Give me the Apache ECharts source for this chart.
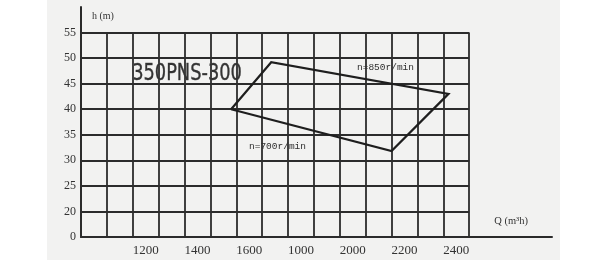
<!DOCTYPE html>
<html>
<head>
<meta charset="utf-8">
<script src="https://cdn.jsdelivr.net/npm/echarts@6/dist/echarts.min.js"></script>
<style>
  html, body { margin: 0; padding: 0; background: #ffffff; }
  #chart { position: absolute; left: 47px; top: 0; width: 513px; height: 260px; background: #f2f2f1; }
</style>
</head>
<body>
<div id="chart"></div>
<script>
// ---- data ----
const xTickValues = [1200, 1400, 1600, 1800, 2000, 2200, 2400];
const xTickLabels = ['1200', '1400', '1600', '1000', '2000', '2200', '2400'];
const yTickValues = [15, 20, 25, 30, 35, 40, 45, 50, 55];
const yTickLabels = ['0', '20', '25', '30', '35', '40', '45', '50', '55'];
const gridQ = [950, 1050, 1150, 1250, 1350, 1450, 1550, 1650, 1750, 1850, 1950, 2050, 2150, 2250, 2350, 2450];
const gridH = [15, 20, 25, 30, 35, 40, 45, 50, 55];
const envelopeQ = [1530, 1685, 2370, 2150, 1530];
const envelopeH = [40, 49.2, 43, 31.8, 40];
const modelName = '350PNS-300';
const speedHigh = 'n=850r/min';
const speedLow = 'n=700r/min';

// ---- build ----
const qMin = gridQ[0], qMax = gridQ[gridQ.length - 1];
const hMin = gridH[0], hMax = gridH[gridH.length - 1];
const gridLines = [];
gridQ.forEach(q => gridLines.push([{ coord: [q, hMin] }, { coord: [q, hMax] }]));
gridH.forEach(h => gridLines.push([{ coord: [qMin, h] }, { coord: [qMax, h] }]));

const xLabelMap = {};
xTickValues.forEach((v, i) => xLabelMap[v] = xTickLabels[i]);
const yLabelMap = {};
yTickValues.forEach((v, i) => yLabelMap[v] = yTickLabels[i]);

const serif = 'Liberation Serif';
const chart = echarts.init(document.getElementById('chart'));
chart.setOption({
  animation: false,
  title: [
    { text: speedHigh, left: 310, top: 62, padding: 0,
      textStyle: { fontFamily: 'Liberation Mono', fontSize: 9.5, fontWeight: 'normal', color: '#2e2e2e' } },
    { text: speedLow, left: 202, top: 141, padding: 0,
      textStyle: { fontFamily: 'Liberation Mono', fontSize: 9.5, fontWeight: 'normal', color: '#2e2e2e' } }
  ],
  graphic: [
    { type: 'text', left: 85, top: 62, scaleX: 0.86, z: 10,
      style: { text: modelName, font: '23px "DejaVu Sans Condensed", "DejaVu Sans", sans-serif', fill: '#333333', stroke: '#555555', lineWidth: 0.4 } }
  ],
  grid: { left: 34, right: 8, top: 7, bottom: 23 },
  xAxis: {
    type: 'value', min: 950, max: 2770, interval: 50,
    name: 'Q (m³h)', nameLocation: 'end', nameGap: -24,
    nameTextStyle: { fontFamily: serif, fontSize: 10.5, color: '#333', align: 'right', verticalAlign: 'bottom', padding: [0, 0, 10, 0] },
    axisLine: { show: true, lineStyle: { color: '#2a2a2a', width: 2 } },
    axisTick: { show: false },
    splitLine: { show: false },
    axisLabel: {
      margin: 7, fontFamily: serif, fontSize: 13, color: '#333',
      showMinLabel: true, showMaxLabel: true,
      formatter: v => xLabelMap[v] || ''
    }
  },
  yAxis: {
    type: 'value', min: 15, max: 60, interval: 5,
    name: 'h (m)', nameLocation: 'end', nameGap: -14,
    nameTextStyle: { fontFamily: serif, fontSize: 10, color: '#333', align: 'left', padding: [0, 0, 0, 11] },
    axisLine: { show: true, lineStyle: { color: '#2a2a2a', width: 2 } },
    axisTick: { show: false },
    splitLine: { show: false },
    axisLabel: {
      margin: 5, fontFamily: serif, fontSize: 12, color: '#333',
      formatter: v => (yLabelMap[v] !== undefined ? yLabelMap[v] : '')
    }
  },
  series: [
    {
      type: 'line', data: [], z: 1,
      markLine: {
        silent: true, symbol: 'none', label: { show: false },
        lineStyle: { color: '#2c2c2c', width: 1.8, type: 'solid' },
        data: gridLines
      }
    },
    {
      type: 'line', z: 5,
      data: envelopeQ.map((q, i) => [q, envelopeH[i]]),
      symbol: 'none',
      lineStyle: { color: '#1e1e1e', width: 2.2, join: 'miter' }
    }
  ]
});
</script>
</body>
</html>
